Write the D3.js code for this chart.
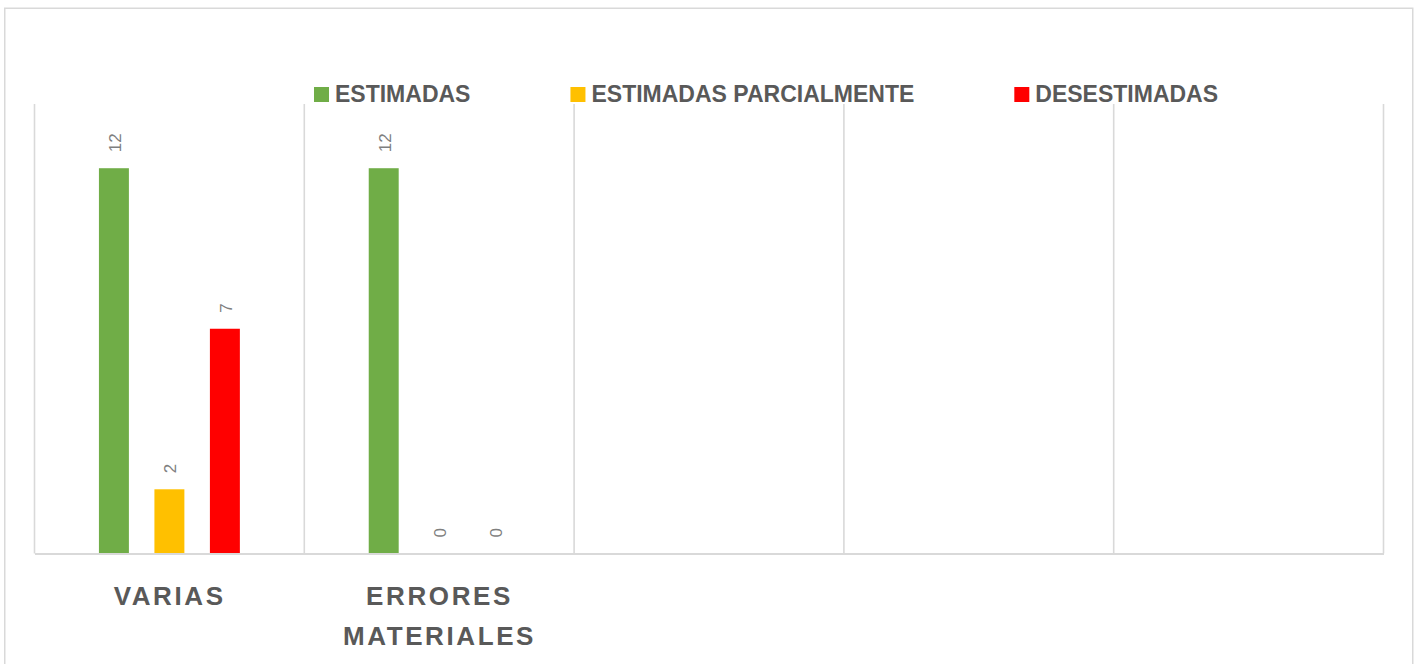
<!DOCTYPE html>
<html>
<head>
<meta charset="utf-8">
<script src="https://cdn.jsdelivr.net/npm/d3@7"></script>
<style>
  html, body { margin: 0; padding: 0; background: #fff; }
  svg { display: block; }
</style>
</head>
<body>
<svg id="chart" width="1419" height="664"></svg>
<script>
// Categories along the x axis (three trailing slots are empty)
const categories = ["VARIAS", "ERRORES MATERIALES", "", " ", "  "];
// Series names and colours
const seriesNames = ["ESTIMADAS", "ESTIMADAS PARCIALMENTE", "DESESTIMADAS"];
const seriesColors = ["#70ad47", "#ffc000", "#ff0000"];
// Values per series, aligned with the categories (null = no data)
const estimadas = [12, 12, null, null, null];
const parciales = [2, 0, null, null, null];
const desestimadas = [7, 0, null, null, null];
const seriesValues = [estimadas, parciales, desestimadas];
// Value axis range
const yMax = 14;

const svg = d3.select("#chart");
const plot = { left: 34.5, right: 1383.5, top: 104, bottom: 553.5 };
const gridColor = "#d9d9d9";
const textDark = "#595959";

// Chart frame
svg.append("rect")
  .attr("x", 4.75).attr("y", 8.25)
  .attr("width", 1408).attr("height", 700)
  .attr("fill", "#fff")
  .attr("stroke", gridColor).attr("stroke-width", 1.5);

// Scales
const x0 = d3.scaleBand().domain(categories).range([plot.left, plot.right]).padding(0);
const groupWidth = x0.bandwidth() * 0.617;
const x1 = d3.scaleBand().domain(d3.range(seriesNames.length))
  .range([-groupWidth / 2, groupWidth / 2])
  .paddingInner(0.46).paddingOuter(0.23);
const y = d3.scaleLinear().domain([0, yMax]).range([plot.bottom, plot.top]);

// Vertical gridlines at category boundaries
const bounds = categories.map(c => x0(c)).concat([plot.right]);
svg.append("g").selectAll("line").data(bounds).join("line")
  .attr("x1", d => d).attr("x2", d => d)
  .attr("y1", plot.top).attr("y2", plot.bottom)
  .attr("stroke", gridColor).attr("stroke-width", 1.6);

// Bars
const barData = [];
categories.forEach((c, ci) => {
  seriesValues.forEach((vals, si) => {
    const v = vals[ci];
    if (v !== null && v !== undefined) barData.push({ c, si, v });
  });
});
const cx = d => x0(d.c) + x0.bandwidth() / 2 + x1(d.si);
svg.append("g").selectAll("rect").data(barData).join("rect")
  .attr("x", d => cx(d))
  .attr("y", d => y(d.v))
  .attr("width", x1.bandwidth())
  .attr("height", d => y(0) - y(d.v))
  .attr("fill", d => seriesColors[d.si]);

// Category axis line
const xAxis = d3.axisBottom(x0).tickSize(0).tickFormat("");
const gx = svg.append("g").attr("transform", `translate(0,${plot.bottom})`).call(xAxis);
gx.select(".domain").attr("stroke", gridColor).attr("stroke-width", 2);

// Rotated value labels
svg.append("g").selectAll("text").data(barData).join("text")
  .attr("transform", d => `translate(${cx(d) + x1.bandwidth() / 2 + 1},${y(d.v) - 16}) rotate(-90)`)
  .attr("dy", "0.35em")
  .attr("font-family", "Liberation Sans, Arial, sans-serif")
  .attr("font-size", 17)
  .attr("fill", "#7f7f7f")
  .text(d => d.v);

// Category labels (wrapped, letter-spaced)
const catLabel = svg.append("g")
  .attr("font-family", "Liberation Sans, Arial, sans-serif")
  .attr("font-weight", "bold")
  .attr("font-size", 26)
  .attr("fill", textDark)
  .attr("letter-spacing", 2.6);
categories.forEach(c => {
  const words = c.trim() ? c.split(" ") : [];
  words.forEach((w, i) => {
    catLabel.append("text")
      .attr("x", x0(c) + x0.bandwidth() / 2 + 0.3)
      .attr("y", 605 + i * 40)
      .attr("text-anchor", "middle")
      .text(w);
  });
});

// Legend
const legend = svg.append("g")
  .attr("font-family", "Liberation Sans, Arial, sans-serif")
  .attr("font-weight", "bold")
  .attr("font-size", 23)
  .attr("fill", textDark);
let lx = 314;
seriesNames.forEach((name, i) => {
  legend.append("rect")
    .attr("x", lx).attr("y", 87)
    .attr("width", 15).attr("height", 15)
    .attr("fill", seriesColors[i]);
  const t = legend.append("text")
    .attr("x", lx + 21).attr("y", 102)
    .text(name);
  lx = lx + 21 + t.node().getComputedTextLength() + 100;
});
</script>
</body>
</html>
